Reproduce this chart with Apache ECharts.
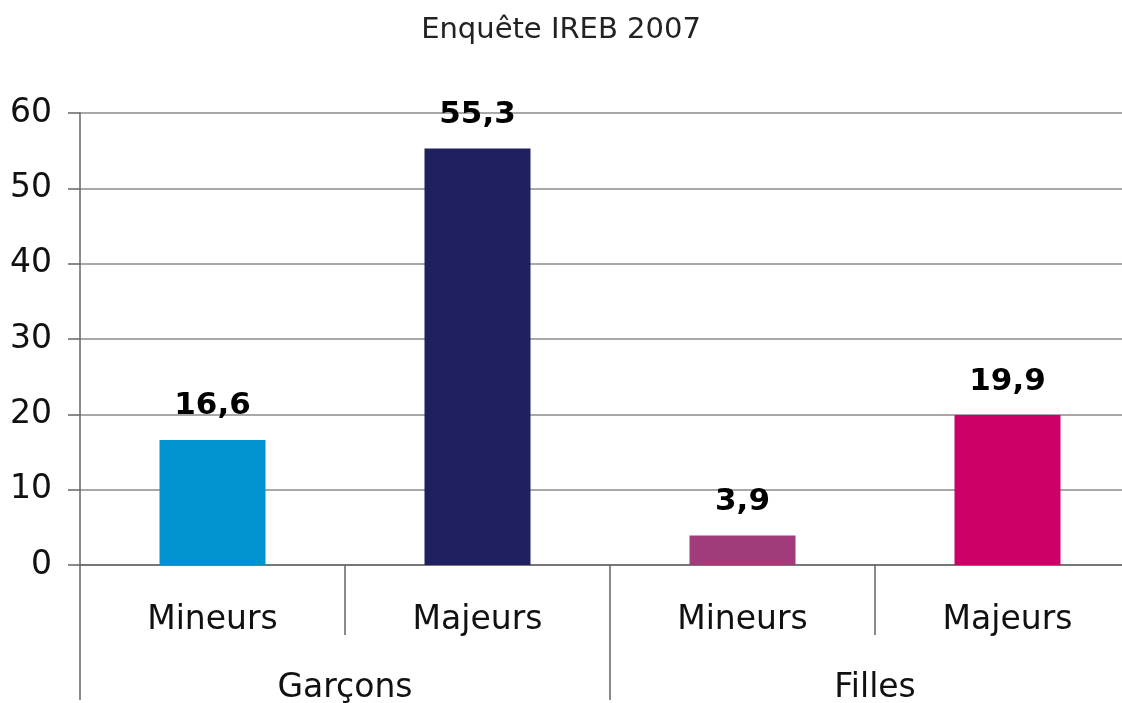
<!DOCTYPE html>
<html>
<head>
<meta charset="utf-8">
<script src="https://cdn.jsdelivr.net/npm/echarts@6/dist/echarts.min.js"></script>
<style>
  html, body { margin: 0; padding: 0; background: #fff; }
  #main { width: 1122px; height: 703px; }
</style>
</head>
<body>
<div id="main"></div>
<script>
// données
const sousCategories = ['Mineurs', 'Majeurs', 'Mineurs', 'Majeurs'];
const groupes = ['Garçons', 'Filles'];
const valeurs = [16.6, 55.3, 3.9, 19.9];
const couleurs = ['#0093d0', '#201f5f', '#a23b7a', '#cc0066'];

const chart = echarts.init(document.getElementById('main'));
const police = 'DejaVu Sans, Liberation Sans, sans-serif';

chart.setOption({
  animation: false,
  title: {
    text: 'Enquête IREB 2007',
    left: 'center',
    top: 11,
    textStyle: { fontFamily: police, fontSize: 29, fontWeight: 'normal', color: '#222' }
  },
  grid: { left: 80, right: -18, top: 113, bottom: 138, containLabel: false, outerBoundsMode: 'none' },
  xAxis: [
    {
      type: 'category',
      data: sousCategories,
      position: 'bottom',
      axisLine: { show: true, lineStyle: { color: '#666', width: 1.5 } },
      axisTick: { show: true, length: 70, interval: 0, lineStyle: { color: '#666', width: 1.5 } },
      axisLabel: { interval: 0, margin: 39, fontFamily: police, fontSize: 33, color: '#111' }
    },
    {
      type: 'category',
      data: groupes,
      position: 'bottom',
      axisLine: { show: false },
      axisTick: { show: true, length: 135, interval: 0, lineStyle: { color: '#666', width: 1.5 } },
      axisLabel: { interval: 0, margin: 107, fontFamily: police, fontSize: 33, color: '#111' }
    }
  ],
  yAxis: {
    type: 'value',
    min: 0,
    max: 60,
    interval: 10,
    axisLine: { show: true, lineStyle: { color: '#666', width: 1.5 } },
    axisTick: { show: true, length: 12, lineStyle: { color: '#666', width: 1.5 } },
    axisLabel: { margin: 28, fontFamily: police, fontSize: 33, color: '#111', verticalAlign: 'middle', padding: [4, 0, 0, 0] },
    splitLine: { show: true, lineStyle: { color: '#a8a8a8', width: 2 } }
  },
  series: [{
    type: 'bar',
    xAxisIndex: 0,
    barWidth: '40%',
    data: valeurs.map((v, i) => ({ value: v, itemStyle: { color: couleurs[i] } })),
    label: {
      show: true,
      position: 'top',
      distance: 18,
      fontFamily: police,
      fontSize: 31,
      fontWeight: 'bold',
      color: '#000',
      formatter: p => String(p.value).replace('.', ',')
    }
  }]
});
</script>
</body>
</html>
